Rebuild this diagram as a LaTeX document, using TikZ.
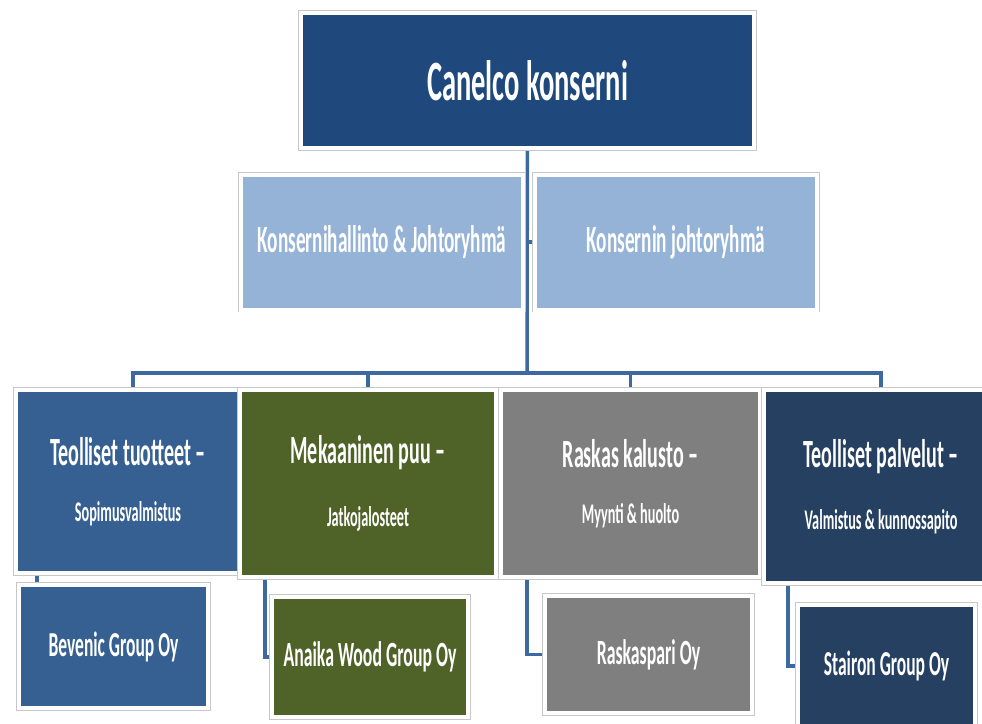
\documentclass[tikz,border=0pt]{standalone}
\usepackage{fontspec}
\setmainfont{Carlito}[FakeStretch=0.5]
\usetikzlibrary{positioning, backgrounds}
\definecolor{headblue}{RGB}{31,73,125}
\definecolor{staffblue}{RGB}{149,179,215}
\definecolor{prodblue}{RGB}{54,96,146}
\definecolor{woodgreen}{RGB}{79,98,40}
\definecolor{heavygray}{RGB}{127,127,127}
\definecolor{servnavy}{RGB}{37,64,97}
\definecolor{linkblue}{RGB}{62,104,160}
\tikzstyle{frame} = [rectangle, inner sep=0pt, outer sep=0pt, text=white, font=\bfseries, align=center, preaction={draw=black!22, line width=5.4pt}, draw=white, line width=4pt]
\tikzstyle{head} = [frame, fill=headblue, minimum width=453pt, minimum height=135pt]
\tikzstyle{staff} = [frame, fill=staffblue, minimum width=282pt, minimum height=135pt]
\tikzstyle{division} = [frame, minimum height=187pt]
\tikzstyle{company} = [frame]
\tikzstyle{link} = [draw=linkblue, line width=3.5pt]

\begin{document}
\begin{tikzpicture}[x=1pt, y=-1pt]
            \useasboundingbox (0,0) rectangle (982,723);
            \clip (0,0) rectangle (982,723);
            \coordinate (hub) at (527,373);

            \node (top) [head] at (527.5,80.5) {\fontsize{57}{60}\selectfont Canelco konserni};
            \node (konhall) [staff] at (382,242) {\fontsize{38.5}{42}\selectfont Konsernihallinto \& Johtoryhmä};
            \node (konjoht) [staff] at (676,242) {\fontsize{38.5}{42}\selectfont Konsernin johtoryhmä};

            \node (teol) [division, fill=prodblue, minimum width=225pt, minimum height=183pt] at (128,481.5) {\fontsize{40}{43}\selectfont Teolliset tuotteet –\\[35pt]\fontsize{28.5}{31}\selectfont Sopimusvalmistus};
            \node (meka) [division, fill=woodgreen, minimum width=256pt] at (368,483.5) {\fontsize{40}{43}\selectfont Mekaaninen puu –\\[35pt]\fontsize{28.5}{31}\selectfont Jatkojalosteet};
            \node (rask) [division, fill=heavygray, minimum width=259pt] at (630.5,483.5) {\fontsize{40}{43}\selectfont Raskas kalusto –\\[35pt]\fontsize{28.5}{31}\selectfont Myynti \& huolto};
            \node (palv) [division, fill=servnavy, minimum width=234pt, minimum height=193pt] at (881,486.5) {\fontsize{40}{43}\selectfont Teolliset palvelut –\\[35pt]\fontsize{28.5}{31}\selectfont Valmistus \& kunnossapito};

            \node (bev) [company, fill=prodblue, minimum width=189pt, minimum height=123pt] at (113.5,646.5) {\fontsize{35}{38}\selectfont Bevenic Group Oy};
            \node (anaika) [company, fill=woodgreen, minimum width=196pt, minimum height=120pt] at (370,657) {\fontsize{35.5}{38}\selectfont Anaika Wood Group Oy};
            \node (raskp) [company, fill=heavygray, minimum width=207pt, minimum height=117pt] at (648.5,654.5) {\fontsize{35.5}{38}\selectfont Raskaspari Oy};
            \node (stair) [company, fill=servnavy, minimum width=177pt, minimum height=122pt] at (886.5,666) {\fontsize{35}{38}\selectfont Stairon Group Oy};

            \begin{scope}[on background layer]
            \draw [link] (top) -- (hub);
            \draw [link] (konhall.east) -- (konjoht.west);
            \draw [link] ([xshift=5pt]teol.north) |- (hub) -| (palv.north);
            \draw [link] (meka.north) -- (meka.north |- hub);
            \draw [link] (rask.north) -- (rask.north |- hub);
            \draw [link] ([xshift=-91pt]teol.south) |- (bev.west);
            \draw [link] ([xshift=-103pt]meka.south) |- (anaika.west);
            \draw [link] ([xshift=-103.5pt]rask.south) |- (raskp.west);
            \draw [link] ([xshift=-93pt]palv.south) |- (stair.west);
            \end{scope}

        \end{tikzpicture}
\end{document}
